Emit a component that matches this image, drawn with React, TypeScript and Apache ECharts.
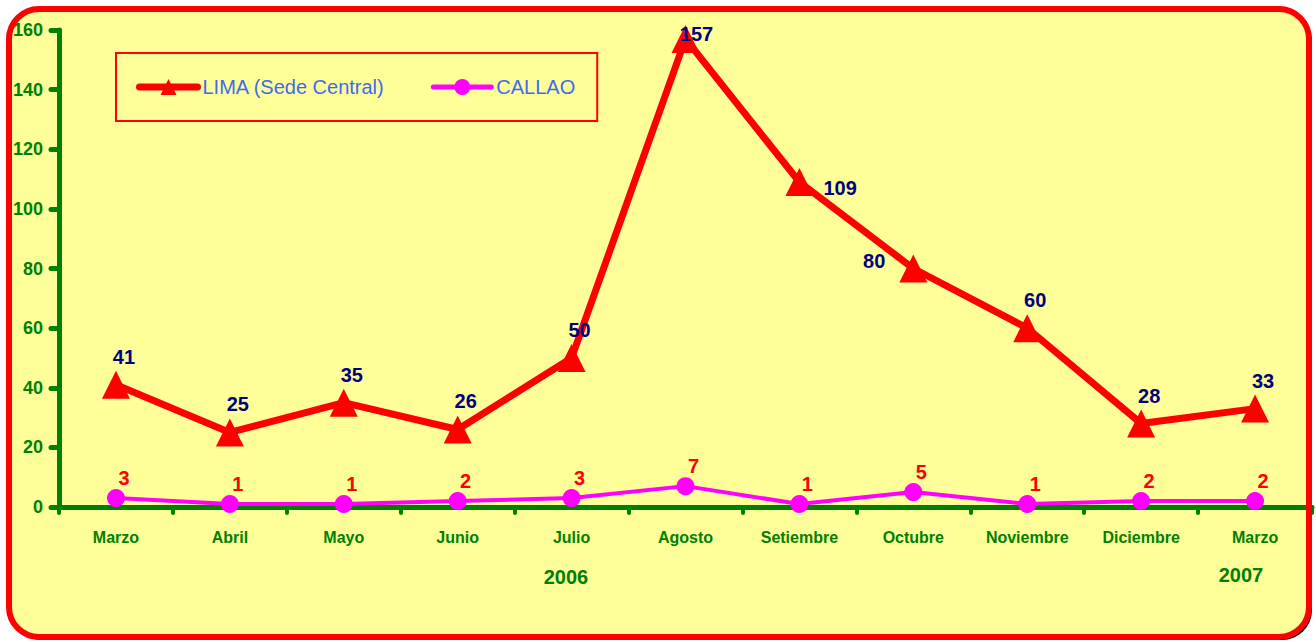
import React, { useEffect, useRef } from "react";
import * as echarts from "echarts";

const categories = ["Marzo", "Abril", "Mayo", "Junio", "Julio", "Agosto", "Setiembre", "Octubre", "Noviembre", "Diciembre", "Marzo"];
const limaValues = [41, 25, 35, 26, 50, 157, 109, 80, 60, 28, 33];
const callaoValues = [3, 1, 1, 2, 3, 7, 1, 5, 1, 2, 2];
const seriesNames = ["LIMA (Sede Central)", "CALLAO"];
const yearLabels = ["2006", "2007"];
const yTicks = { min: 0, max: 160, interval: 20 };

const FONT = "'Liberation Sans', Arial, sans-serif";
const GREEN = "#008000";

export default function App() {
  const ref = useRef<HTMLDivElement>(null);
  useEffect(() => {
    document.body.style.margin = "0";
    document.body.style.overflow = "hidden";
    const chart = echarts.init(ref.current!, null, { renderer: "svg" });

    const limaLabelOverrides: Record<number, any> = {
      5: { position: "inside", offset: [11, -5] },
      6: { position: "right", offset: [6, 6] },
      7: { position: "left", offset: [-10, -8] },
    };
    const limaData = limaValues.map((v, i) =>
      limaLabelOverrides[i] ? { value: v, label: limaLabelOverrides[i] } : v
    );

    chart.setOption({
      animation: false,
      backgroundColor: "transparent",
      grid: { left: 59, right: 4, top: 30, bottom: 135, containLabel: false },
      legend: {
        data: [
          { name: seriesNames[0], lineStyle: { width: 7, color: "#FF0000", cap: "round" } },
          { name: seriesNames[1], lineStyle: { width: 5, color: "#FF00FF", cap: "round" } },
        ],
        left: 116,
        top: 53,
        orient: "horizontal",
        padding: [24, 22, 24, 20],
        itemGap: 46,
        itemWidth: 58,
        itemHeight: 20,
        borderColor: "#FF0000",
        borderWidth: 2,
        textStyle: { color: "#3D6BEF", fontSize: 20, fontFamily: FONT },
      },
      xAxis: {
        type: "category",
        data: categories,
        boundaryGap: true,
        axisLine: { lineStyle: { color: GREEN, width: 5 } },
        axisTick: { show: true, length: 6, lineStyle: { color: GREEN, width: 4, cap: "round" } },
        axisLabel: { color: GREEN, fontWeight: "bold", fontSize: 16, fontFamily: FONT, margin: 22, interval: 0 },
        splitLine: { show: false },
      },
      yAxis: {
        type: "value",
        min: yTicks.min,
        max: yTicks.max,
        interval: yTicks.interval,
        axisLine: { show: true, lineStyle: { color: GREEN, width: 5, cap: "round" } },
        axisTick: { show: true, length: 8, lineStyle: { color: GREEN, width: 5, cap: "round" } },
        axisLabel: { color: GREEN, fontWeight: "bold", fontSize: 18, fontFamily: FONT, margin: 16 },
        splitLine: { show: false },
      },
      series: [
        {
          name: seriesNames[0],
          type: "line",
          data: limaData,
          symbol: "triangle",
          symbolSize: 28,
          itemStyle: { color: "#FF0000" },
          lineStyle: { color: "#FF0000", width: 7 },
          label: {
            show: true,
            position: "top",
            distance: 4,
            offset: [8, 0],
            color: "#000080",
            fontWeight: "bold",
            fontSize: 20,
            fontFamily: FONT,
          },
          z: 3,
        },
        {
          name: seriesNames[1],
          type: "line",
          data: callaoValues,
          symbol: "circle",
          symbolSize: 18,
          itemStyle: { color: "#FF00FF" },
          lineStyle: { color: "#FF00FF", width: 4 },
          label: {
            show: true,
            position: "top",
            distance: 1,
            offset: [8, 0],
            color: "#FF0000",
            fontWeight: "bold",
            fontSize: 20,
            fontFamily: FONT,
          },
          z: 4,
        },
      ],
      graphic: [
        { type: "rect", z: -30, silent: true, shape: { x: 12, y: 12, width: 1300, height: 628, r: 30 }, style: { fill: "#000000" } },
        { type: "rect", z: -20, silent: true, shape: { x: 9, y: 9, width: 1300, height: 628, r: 30 }, style: { fill: "#FFFF99" } },
        { type: "rect", z: 100, silent: true, shape: { x: 9, y: 9, width: 1300, height: 628, r: 30 }, style: { fill: "none", stroke: "#FF0000", lineWidth: 6 } },
        { type: "text", z: 10, x: 566, y: 577, style: { text: yearLabels[0], fill: GREEN, font: `bold 20px ${FONT}`, align: "center", verticalAlign: "middle" } },
        { type: "text", z: 10, x: 1241, y: 575, style: { text: yearLabels[1], fill: GREEN, font: `bold 20px ${FONT}`, align: "center", verticalAlign: "middle" } },
      ],
    });
    return () => chart.dispose();
  }, []);
  return <div ref={ref} style={{ width: 1316, height: 642 }} />;
}
